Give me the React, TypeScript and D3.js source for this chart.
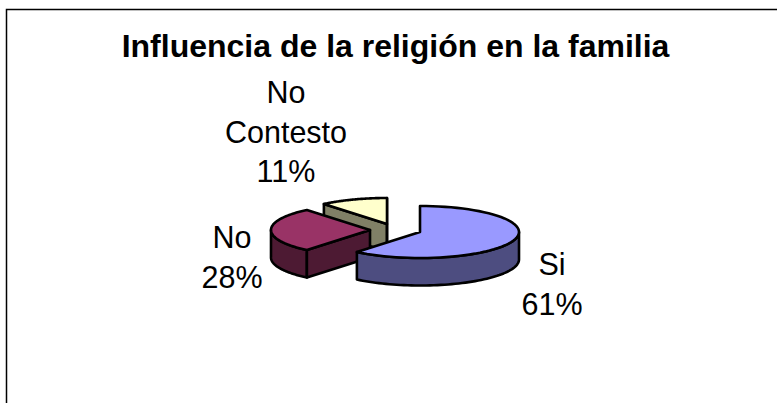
import React from "react";
import * as d3 from "d3";

const categories = ["Si", "No", "No Contesto"];
const values = [61, 28, 11];
const topColors = ["#9999ff", "#993366", "#ffffcc"];
const sideColors = ["#4d4d80", "#4d1a33", "#808066"];
const titleText = "Influencia de la religión en la familia";

const W = 777, H = 403;
const rx = 99, ry = 26, depth = 27.5;
// slice apex positions (exploded pie)
const apexes: [number, number][] = [[420, 232], [370, 230], [387, 224]];

const pie = d3.pie<number>().sort(null).startAngle(0).endAngle(2 * Math.PI);
const arcs = pie(values);

function pt(c: [number, number], a: number, dy = 0): [number, number] {
  return [c[0] + rx * Math.sin(a), c[1] - ry * Math.cos(a) + dy];
}
function arcPts(c: [number, number], a0: number, a1: number, dy = 0) {
  const n = 60;
  return d3.range(n + 1).map((i) => pt(c, a0 + ((a1 - a0) * i) / n, dy));
}
const line = d3.line();

function topPath(c: [number, number], a0: number, a1: number) {
  return line([c, ...arcPts(c, a0, a1)])! + "Z";
}
function outerWall(c: [number, number], a0: number, a1: number) {
  return line([...arcPts(c, a0, a1), ...arcPts(c, a1, a0, depth)])! + "Z";
}
function cutWall(c: [number, number], a: number) {
  const p = pt(c, a);
  return line([c, p, [p[0], p[1] + depth], [c[0], c[1] + depth]])! + "Z";
}

const stroke = { stroke: "#000", strokeWidth: 2.6, strokeLinejoin: "round" as const };
const font = "'Liberation Sans', Arial, sans-serif";
const labelSize = 30.5;

const labels: { lines: string[]; x: number; y: number }[] = [
  { lines: ["Si", "61%"], x: 552, y: 275 },
  { lines: ["No", "28%"], x: 232, y: 248 },
  { lines: ["No", "Contesto", "11%"], x: 286, y: 103 },
];

export default function App() {
  const [si, no, nc] = arcs;
  return (
    <svg width={W} height={H} style={{ position: "absolute", left: 0, top: 0, background: "#fff" }}>
      <path d={`M6.5,${H}V9.5H${W}`} fill="none" stroke="#000" strokeWidth={1.5} />
      <text x={395.5} y={57} textAnchor="middle" fontFamily={font} fontWeight="bold" fontSize={32} fill="#000">
        {titleText}
      </text>

      {/* No Contesto */}
      <path d={cutWall(apexes[2], nc.startAngle)} fill={sideColors[2]} {...stroke} />
      <path d={line([apexes[2], pt(apexes[2], nc.endAngle), [apexes[2][0], apexes[2][1] + depth]])!} fill={sideColors[2]} {...stroke} />
      <path d={topPath(apexes[2], nc.startAngle, nc.endAngle)} fill={topColors[2]} {...stroke} />

      {/* No */}
      <path d={outerWall(apexes[1], no.startAngle, (3 * Math.PI) / 2)} fill={sideColors[1]} {...stroke} />
      <path d={cutWall(apexes[1], no.startAngle)} fill={sideColors[1]} {...stroke} />
      <path d={topPath(apexes[1], no.startAngle, no.endAngle)} fill={topColors[1]} {...stroke} />

      {/* Si */}
      <path d={outerWall(apexes[0], Math.PI / 2, si.endAngle)} fill={sideColors[0]} {...stroke} />
      <path d={topPath(apexes[0], si.startAngle, si.endAngle)} fill={topColors[0]} {...stroke} />

      {labels.map((l, i) => (
        <text key={i} textAnchor="middle" fontFamily={font} fontSize={labelSize} fill="#000">
          {l.lines.map((t, j) => (
            <tspan key={j} x={l.x} y={l.y + j * 39.7}>{t}</tspan>
          ))}
        </text>
      ))}
    </svg>
  );
}
